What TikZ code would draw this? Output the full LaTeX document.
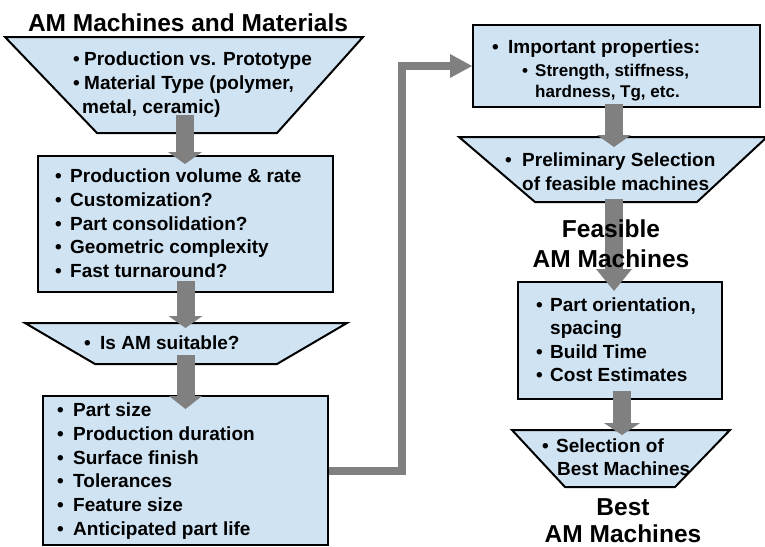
\documentclass[tikz,border=0pt]{standalone}
\usepackage{fontspec}
\setmainfont{Liberation Sans}
\usetikzlibrary{arrows.meta,calc}
\definecolor{boxfill}{RGB}{207,227,243}
\definecolor{arrgray}{RGB}{128,128,128}
\newcommand\bul[2]{\makebox[#1][l]{\textbullet}#2}
\begin{document}
\begin{tikzpicture}[x=1pt,y=-1pt,
  box/.style={draw=black, line width=2pt, fill=boxfill, rectangle, inner sep=0pt},
  trap/.style={draw=black, line width=2pt, fill=boxfill, line join=miter},
  txt/.style={anchor=base west, align=left, inner sep=0pt, font=\fontsize{19}{23.7}\selectfont\bfseries},
  subtxt/.style={anchor=base west, align=left, inner sep=0pt, font=\fontsize{17}{21.5}\selectfont\bfseries},
  head/.style={align=center, inner sep=0pt, font=\fontsize{24.5}{29.5}\selectfont\bfseries},
  flow/.style={draw=arrgray, line width=18pt},
  tipa/.style={-{Triangle[width=34pt,length=12pt,line width=0pt]}}
]
\useasboundingbox (0,0) rectangle (765,546);
% shapes
\draw[trap] (5,37) -- (363,37) -- (277,133) -- (97,133) -- cycle;
\coordinate (t1s) at (185,133);
\node[box, minimum width=295pt, minimum height=136pt] (b2) at (185.5,224) {};
\draw[trap] (25,323) -- (347,323) -- (277,364) -- (95,364) -- cycle;
\coordinate (t3n) at (185.5,323);
\coordinate (t3s) at (185.5,364);
\node[box, minimum width=285pt, minimum height=149pt] (b4) at (185.5,470.5) {};
\node[box, minimum width=287pt, minimum height=82pt] (b5) at (616.5,66) {};
\draw[trap] (459,137) -- (767,137) -- (697,202) -- (535,202) -- cycle;
\coordinate (t6n) at (614,137);
\coordinate (t6s) at (614,202);
\node[box, minimum width=204pt, minimum height=117pt] (b7) at (620,340.5) {};
\draw[trap] (512,430) -- (730,430) -- (675,487) -- (565,487) -- cycle;
\coordinate (t8n) at (622,430);
% connectors
\draw[flow, tipa] ($(t1s)+(0,-18)$) -- ($(t1s |- b2.north)+(0,9)$);
\draw[flow, tipa] ($(b2.south)+(0,-12)$) -- ($(b2.south |- t3n)+(0,5)$);
\draw[flow, -{Triangle[width=33pt,length=13pt,line width=0pt]}] ($(t3s)+(0,-9)$) -- ($(t3s |- b4.north)+(0,14)$);
\draw[draw=arrgray, line width=8pt, line join=miter, -{Triangle[width=24pt,length=22pt,line width=0pt]}] (b4.east) -- ++(73,0) |- (b5.west);
\draw[flow, tipa] ($(t6n |- b5.south)+(0,-4)$) -- ($(t6n)+(0,10)$);
\draw[flow, -{Triangle[width=36pt,length=22pt,line width=0pt]}] ($(t6s)+(0,-3)$) -- ($(t6s |- b7.north)+(0,10)$);
\draw[flow, -{Triangle[width=36pt,length=12pt,line width=0pt]}] ($(t8n |- b7.south)+(0,-9)$) -- ($(t8n)+(0,5)$);
% texts (base anchor = baseline of last line)
\node[head] (title) at (188,23) {AM Machines and Materials};
\node[txt, font=\fontsize{19}{24}\selectfont\bfseries] (x1) at (73,113.3) {\bul{11pt}{Production vs. Prototype}\\ \bul{11pt}{Material Type (polymer,}\\ \hspace*{9pt}metal, ceramic)};
\node[txt] (x2) at (55,277.6) {\bul{15pt}{Production volume \& rate}\\ \bul{15pt}{Customization?}\\ \bul{15pt}{Part consolidation?}\\ \bul{15pt}{Geometric complexity}\\ \bul{15pt}{Fast turnaround?}};
\node[txt] (x3) at (84,349.3) {\bul{16pt}{Is AM suitable?}};
\node[txt] (x4) at (57,535.3) {\bul{16pt}{Part size}\\ \bul{16pt}{Production duration}\\ \bul{16pt}{Surface finish}\\ \bul{16pt}{Tolerances}\\ \bul{16pt}{Feature size}\\ \bul{16pt}{Anticipated part life}};
\node[txt] (x5a) at (492,53.3) {\bul{16pt}{Important properties:}};
\node[subtxt] (x5b) at (522,97.6) {\bul{13pt}{Strength, stiffness,}\\ \hspace*{13pt}hardness, Tg, etc.};
\node[txt] (x6) at (505,190.5) {\bul{17pt}{Preliminary Selection}\\ \hspace*{17pt}of feasible machines};
\node[head] (feas) at (611,243.5) {Feasible\\AM Machines};
\node[txt, font=\fontsize{19}{23.5}\selectfont\bfseries] (x7) at (536,381.8) {\bul{14pt}{Part orientation,}\\ \hspace*{14pt}spacing\\ \bul{14pt}{Build Time}\\ \bul{14pt}{Cost Estimates}};
\node[txt, font=\fontsize{19}{23.5}\selectfont\bfseries] (x8) at (542,475.8) {\bul{14pt}{Selection of}\\ \hspace*{15pt}Best Machines};
\node[head, font=\fontsize{24.5}{27}\selectfont\bfseries] (best) at (623,520.5) {Best\\AM Machines};
\end{tikzpicture}
\end{document}
